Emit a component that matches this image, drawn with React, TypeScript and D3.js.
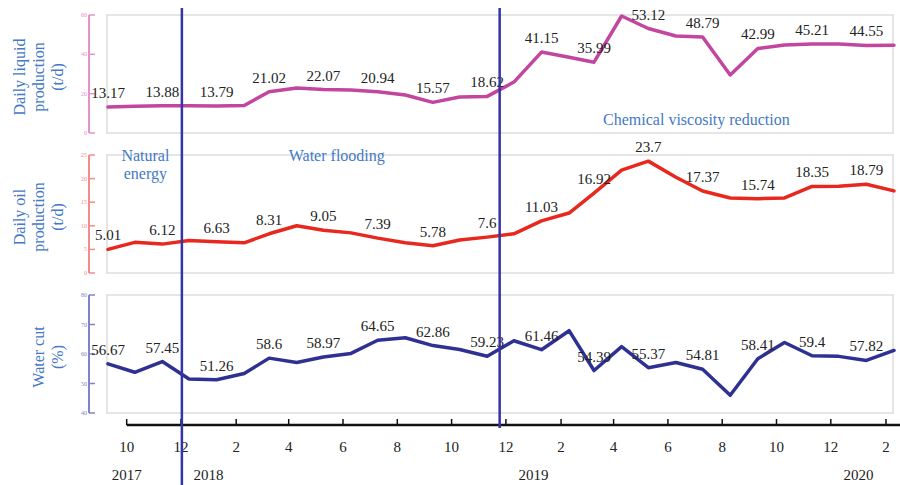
import React from 'react';
import * as d3 from 'd3';

// monthly records, Sep 2017 .. Feb 2020
const months = [
  '2017-09', '2017-10', '2017-11', '2017-12',
  '2018-01', '2018-02', '2018-03', '2018-04', '2018-05', '2018-06',
  '2018-07', '2018-08', '2018-09', '2018-10', '2018-11', '2018-12',
  '2019-01', '2019-02', '2019-03', '2019-04', '2019-05', '2019-06',
  '2019-07', '2019-08', '2019-09', '2019-10', '2019-11', '2019-12',
  '2020-01', '2020-02',
];

const liquid = [
  13.17, 13.6, 13.88, 13.9, 13.79, 14.0, 21.02, 22.9, 22.07, 21.9,
  20.94, 19.3, 15.57, 18.3, 18.62, 25.9, 41.15, 38.5, 35.99, 59.5,
  53.12, 49.3, 48.79, 29.5, 42.99, 44.7, 45.21, 45.3, 44.55, 44.6,
];

const oil = [
  5.01, 6.5, 6.12, 6.9, 6.63, 6.4, 8.31, 10.0, 9.05, 8.5,
  7.39, 6.4, 5.78, 7.0, 7.6, 8.3, 11.03, 12.7, 16.92, 21.8,
  23.7, 20.3, 17.37, 15.9, 15.74, 15.9, 18.35, 18.4, 18.79, 17.4,
];

const waterCut = [
  56.67, 53.8, 57.45, 51.5, 51.26, 53.4, 58.6, 57.1, 58.97, 60.2,
  64.65, 65.5, 62.86, 61.5, 59.23, 64.5, 61.46, 67.9, 54.39, 62.5,
  55.37, 57.1, 54.81, 46.0, 58.41, 63.9, 59.4, 59.2, 57.82, 61.2,
];

const yearLabels = [
  { date: '2017-10-01', text: '2017' },
  { date: '2018-01-01', text: '2018' },
  { date: '2019-01-01', text: '2019' },
  { date: '2020-01-01', text: '2020' },
];

const phaseLines = ['2017-12-02', '2018-11-24'];

const phases = [
  { date: '2017-10-22', lines: ['Natural', 'energy'], panel: 1 },
  { date: '2018-05-25', lines: ['Water flooding'], panel: 1 },
  { date: '2019-07-03', lines: ['Chemical viscosity reduction'], panel: 0 },
];

const panels = [
  { title: ['Daily liquid', 'production', '(t/d)'], values: liquid, domain: [0, 60], ticks: [0, 20, 40, 60], top: 15, bottom: 133, line: '#c2469f', axis: '#e690cc' },
  { title: ['Daily oil', 'production', '(t/d)'], values: oil, domain: [0, 25], ticks: [0, 5, 10, 15, 20, 25], top: 155, bottom: 273, line: '#e8281e', axis: '#f48b8b' },
  { title: ['Water cut', '(%)'], values: waterCut, domain: [40, 80], ticks: [40, 50, 60, 70, 80], top: 295, bottom: 413, line: '#2e3192', axis: '#8282c8' },
];

const parseMonth = d3.timeParse('%Y-%m');
const parseDay = d3.timeParse('%Y-%m-%d');
const pointDate = (m: string) => d3.timeDay.offset(parseMonth(m) as Date, 9);

const serif = '"Liberation Serif", "DejaVu Serif", serif';
const blue = '#4479c4';

export default function App() {
  const dates = months.map(pointDate);
  const x = d3.scaleTime().domain([dates[0], dates[dates.length - 1]]).range([108, 894]);

  const tickDates = d3.timeMonth
    .range(parseDay('2017-10-01') as Date, parseDay('2020-02-02') as Date)
    .filter((d) => d.getMonth() % 2 === 1);

  const axisY = 425;
  const axisStart = x(parseDay('2017-10-01') as Date);

  return (
    <svg width={900} height={485} style={{ position: 'absolute', left: 0, top: 0, background: '#fff' }}>
      {panels.map((p, pi) => {
        const y = d3.scaleLinear().domain(p.domain).range([p.bottom, p.top]);
        const line = d3.line<number>().x((_, i) => x(dates[i])).y((v) => y(v));
        const midY = (p.top + p.bottom) / 2 + 3;
        const n = p.title.length;
        return (
          <g key={pi}>
            <rect x={107} y={p.top} width={786} height={p.bottom - p.top} fill="none" stroke="#dddddd" strokeWidth={1.5} />
            {/* left axis */}
            <line x1={89} x2={89} y1={p.top} y2={p.bottom} stroke={p.axis} strokeWidth={2} />
            {p.ticks.map((t) => (
              <g key={t}>
                <line x1={89} x2={95} y1={y(t)} y2={y(t)} stroke={p.axis} strokeWidth={1.5} />
                <text x={87} y={y(t) + 2} fontSize={6} textAnchor="end" fill={p.axis} fontFamily={serif}>{t}</text>
              </g>
            ))}
            {/* axis title, one rotated line per row */}
            {p.title.map((t, j) => (
              <text
                key={j}
                transform={`translate(${63 - (n - 1 - j) * 19}, ${midY}) rotate(-90)`}
                fontFamily={serif}
                fontSize={16}
                fill={blue}
                textAnchor="middle"
              >
                {t}
              </text>
            ))}
            <path d={line(p.values) || ''} fill="none" stroke={p.line} strokeWidth={3.5} strokeLinejoin="round" strokeLinecap="round" />
            {p.values.map((v, i) =>
              i % 2 === 0 ? (
                <text key={i} x={x(dates[i])} y={y(v) - 9} fontSize={15} fontFamily={serif} fill="#222" textAnchor="middle">
                  {v}
                </text>
              ) : null
            )}
          </g>
        );
      })}

      {phases.map((ph, i) => {
        const p = panels[ph.panel];
        const px = x(parseDay(ph.date) as Date);
        return (
          <text key={i} x={px} y={ph.panel === 0 ? 125 : p.top + 6} fontSize={16} fontFamily={serif} fill={blue} textAnchor="middle">
            {ph.lines.map((t, j) => (
              <tspan key={j} x={px} dy={j === 0 ? 0 : 18}>{t}</tspan>
            ))}
          </text>
        );
      })}

      {/* time axis */}
      <line x1={axisStart} x2={900} y1={axisY} y2={axisY} stroke="#111" strokeWidth={2.5} />
      {tickDates.map((d, i) => (
        <g key={i}>
          <line x1={x(d)} x2={x(d)} y1={axisY - 6} y2={axisY} stroke="#111" strokeWidth={1.5} />
          <text x={x(d)} y={452} fontSize={15} fontFamily={serif} fill="#222" textAnchor="middle">{d.getMonth() + 1}</text>
        </g>
      ))}
      {yearLabels.map((yl) => (
        <text key={yl.text} x={x(parseDay(yl.date) as Date)} y={480} fontSize={15} fontFamily={serif} fill="#222" textAnchor="middle">{yl.text}</text>
      ))}

      {phaseLines.map((d, i) => (
        <line key={d} x1={x(parseDay(d) as Date)} x2={x(parseDay(d) as Date)} y1={8} y2={i === 0 ? 485 : 428} stroke="#3434a6" strokeWidth={2.5} />
      ))}
    </svg>
  );
}
